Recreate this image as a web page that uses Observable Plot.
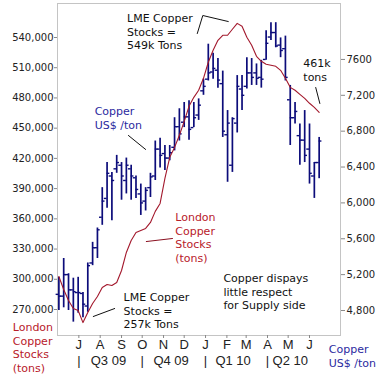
<!DOCTYPE html>
<html><head><meta charset="utf-8">
<script src="https://cdn.jsdelivr.net/npm/d3@7"></script>
<script src="https://cdn.jsdelivr.net/npm/@observablehq/plot@0.6"></script>
<style>body{margin:0;background:#fff}</style>
</head><body><div id="chart"></div>
<script>
// Weekly copper bars (US$/ton) starting week of 2009-06-02
const firstWeek = "2009-06-02";
const high  = [5170,5380,5210,5160,5170,5000,5330,5560,5720,6170,6450,6340,6530,6450,6500,6420,6300,6210,6170,6330,6690,6720,6640,6640,6950,7050,7120,7140,7120,7160,7380,7770,7670,7610,7470,7030,6950,7420,7420,7620,7610,7550,7590,7920,8010,8010,7840,7860,7310,7120,6880,7030,6880,6450,6730];
const low   = [4800,4830,4800,4670,4770,4720,4780,5300,5380,5750,5940,5800,6330,6030,6100,6030,6050,5860,5910,6060,6250,6390,6360,6470,6580,6690,6840,6700,6840,6920,7200,7360,7380,7280,6730,6230,6340,6780,7030,7270,7310,7310,7280,7590,7810,7730,7620,7360,6640,6880,6420,6450,6210,6050,6270];
const open  = [4980,4960,5200,5030,5000,4990,4850,5330,5500,5840,6050,6300,6380,6420,6250,6380,6280,6100,6020,6170,6300,6600,6550,6500,6620,6850,6900,6960,6840,6980,7250,7380,7460,7480,7330,6760,6420,6890,7270,7300,7450,7450,7400,7600,7850,7900,7760,7720,7150,6950,6750,6700,6600,6300,6450];
const close = [4960,5200,5030,5010,5000,4870,5300,5500,5700,6020,6330,6250,6450,6300,6420,6300,6150,6000,6140,6290,6600,6530,6500,6560,6850,6770,6960,6820,6950,7090,7300,7450,7500,7370,6800,6890,6940,7300,7200,7450,7400,7390,7380,7780,7900,7750,7700,7400,6950,7020,6700,6530,6330,6450,6690];
// LME copper stocks (tons), same weeks
const stocks = [302800,289900,278900,271000,269000,257000,267000,276000,282900,291900,294800,293800,296800,308700,326600,338500,346500,348500,350500,356400,367400,375300,400100,421000,430900,442900,456800,471700,480600,487600,499500,515400,527300,537200,542200,542200,548200,554000,551100,540200,532300,521300,516400,513400,512400,511400,507400,499500,490500,487600,483600,479600,474700,470700,465700];

const priceTicks = [4800,5200,5600,6000,6400,6800,7200,7600];
const stockTicks = [270000,300000,330000,360000,390000,420000,450000,480000,510000,540000];
const monthTicks = ["2009-07-01","2009-08-01","2009-09-01","2009-10-01","2009-11-01","2009-12-01","2010-01-01","2010-02-01","2010-03-01","2010-04-01","2010-05-01","2010-06-01"];
const monthLabels = ["J","A","S","O","N","D","J","F","M","A","M","J"];
const quarterSeps = ["2009-07-01","2009-10-01","2010-01-01","2010-04-01"];
const quarterDates = ["2009-08-13","2009-11-12","2010-02-10","2010-05-04"];
const quarterLabels = ["Q3 09","Q4 09","Q1 10","Q2 10"];

// annotations: [date, price-axis value, text, colour]
const annotations = [
  ["2009-09-09", 8124, "LME Copper\nStocks =\n549k Tons", "#111"],
  ["2009-07-24", 7086, "Copper\nUS$ /ton", "#2a2aa0"],
  ["2009-11-18", 5904, "London\nCopper\nStocks\n(tons)", "#b8202a"],
  ["2009-09-04", 5012, "LME Copper\nStocks =\n257k Tons", "#111"],
  ["2010-05-23", 7622, "461k\ntons", "#111"],
  ["2010-01-27", 5224, "Copper dispays\nlittle respect\nfor Supply side", "#111"],
  ["2009-03-27", 4677, "London\nCopper\nStocks\n(tons)", "#b8202a"],
  ["2010-06-29", 4432, "Copper\nUS$ /ton", "#2a2aa0"]
];
// leader lines: [group, date, price-axis value]
const leaders = [
  [1,"2009-12-20",7889],[1,"2009-12-28",8090],[1,"2010-02-03",8023],
  [2,"2009-09-11",6752],[2,"2009-10-06",6596],
  [3,"2009-10-07",5569],[3,"2009-11-14",5603],
  [4,"2009-07-22",4733],[4,"2009-08-22",4822],
  [5,"2010-06-10",7287],[5,"2010-06-16",7109]
];
const leaderColor = {1:"#111",2:"#111",3:"#8a1020",4:"#111",5:"#111"};

const priceDomain = [4521, 8224];
const stockDomain = [244190, 573740];
const toPrice = d3.scaleLinear().domain(stockDomain).range(priceDomain);

const t0 = new Date(firstWeek);
const bars = high.map((h, i) => ({
  date: d3.utcDay.offset(t0, 7 * i),
  high: h, low: low[i], open: open[i], close: close[i], stock: toPrice(stocks[i])
}));
const monthMap = new Map(monthTicks.map((d, i) => [+new Date(d), monthLabels[i]]));
const annos = annotations.map(([d, p, t, c]) => ({date: new Date(d), price: p, text: t, color: c}));
const leads = leaders.map(([g, d, p]) => ({g, date: new Date(d), price: p}));

const navy = "#0c0c7a";
const fmt = d3.format(",");

const chart = Plot.plot({
  width: 385, height: 375,
  marginLeft: 57, marginRight: 45, marginTop: 3, marginBottom: 40,
  x: {type: "utc", domain: [new Date("2009-05-31"), new Date("2010-07-16")], axis: null},
  y: {domain: priceDomain, axis: null},
  style: {fontFamily: "DejaVu Sans", fontSize: "10px", background: "#fff", color: "#222"},
  marks: [
    Plot.frame({stroke: "#c4c4c4"}),
    Plot.axisY(priceTicks, {anchor: "right", tickSize: 4, tickPadding: 2, stroke: "#888", fill: "#222",
      tickFormat: d => d === 7600 ? "7600" : fmt(d)}),
    Plot.axisY(stockTicks.map(s => toPrice(s)), {anchor: "left", tickSize: 3, tickPadding: 1, stroke: "#888", fill: "#222",
      tickFormat: d => fmt(Math.round(toPrice.invert(d) / 1000) * 1000)}),
    Plot.axisX(monthTicks.map(d => new Date(d)), {tickSize: 3, tickPadding: 1, stroke: "#888", fill: "#222",
      fontSize: 13, fontFamily: "Liberation Sans", tickFormat: d => monthMap.get(+d)}),
    Plot.text(quarterSeps.map(d => new Date(d)), {x: d => d, text: () => "|", frameAnchor: "bottom", dy: 29,
      fontSize: 13, fontFamily: "Liberation Sans", fill: "#222"}),
    Plot.text(quarterDates.map((d, i) => ({date: new Date(d), label: quarterLabels[i]})),
      {x: "date", text: "label", frameAnchor: "bottom", dy: 29, fontSize: 13, fontFamily: "Liberation Sans", fill: "#222"}),
    Plot.ruleX(bars, {x: "date", y1: "low", y2: "high", stroke: navy, strokeWidth: 1.7}),
    Plot.ruleY(bars, {y: "open", x1: d => d3.utcDay.offset(d.date, -4), x2: "date", stroke: navy, strokeWidth: 1.4}),
    Plot.ruleY(bars, {y: "close", x1: "date", x2: d => d3.utcDay.offset(d.date, 4), stroke: navy, strokeWidth: 1.4}),
    Plot.line(bars, {x: "date", y: "stock", stroke: "#a3182c", strokeWidth: 1.1}),
    Plot.line(leads, {x: "date", y: "price", z: "g", stroke: d => leaderColor[d.g], strokeWidth: 1}),
    ...["#111", "#2a2aa0", "#b8202a"].map(c =>
      Plot.text(annos.filter(a => a.color === c), {x: "date", y: "price", text: "text", fill: c,
        textAnchor: "start", lineAnchor: "top", fontSize: 11, lineHeight: 1.23}))
  ]
});
document.getElementById("chart").appendChild(chart);
</script>
</body></html>
